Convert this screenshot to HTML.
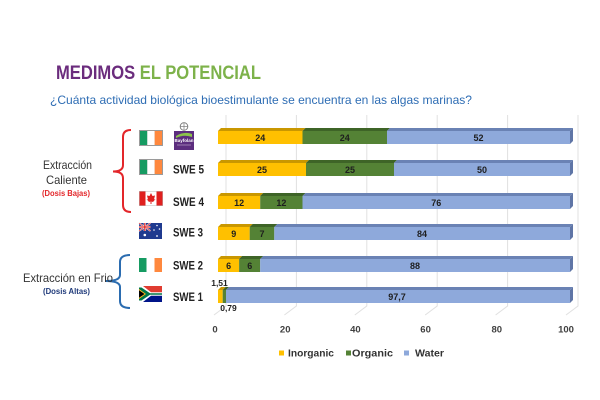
<!DOCTYPE html>
<html>
<head>
<meta charset="utf-8">
<style>
html,body{margin:0;padding:0;background:#fff;}
svg{display:block;}
text{font-family:"Liberation Sans",sans-serif;}
</style>
</head>
<body>
<svg width="600" height="400" viewBox="0 0 600 400" xmlns="http://www.w3.org/2000/svg">
<rect width="600" height="400" fill="#fff"/>

<!-- Title -->
<text x="56" y="79" font-size="19.5" font-weight="bold" textLength="205" lengthAdjust="spacingAndGlyphs"><tspan fill="#6B2C7D">MEDIMOS </tspan><tspan fill="#7DB24A">EL POTENCIAL</tspan></text>
<text x="50" y="104" font-size="12" fill="#2E6DB4" textLength="422" lengthAdjust="spacingAndGlyphs">¿Cuánta actividad biológica bioestimulante se encuentra en las algas marinas?</text>

<!-- Gridlines -->
<g stroke="#E0E0E0" stroke-width="1" fill="none">
<path d="M226,115 V306 L214,315"/>
<path d="M296.4,115 V306 L284.4,315"/>
<path d="M366.8,115 V306 L354.8,315"/>
<path d="M437.2,115 V306 L425.2,315"/>
<path d="M507.6,115 V306 L495.6,315"/>
<path d="M578,115 V306 L566,315"/>
</g>

<!-- Bars -->
<g id="bars">
<polygon points="218,131 221,128 305.5,128 302.5,131" fill="#C99700"/>
<polygon points="302.5,131 305.5,128 390,128 387,131" fill="#3E6427"/>
<polygon points="387,131 390,128 573,128 570,131" fill="#6A82B4"/>
<rect x="218" y="131" width="84.5" height="13" fill="#FFC000"/>
<rect x="302.5" y="131" width="84.5" height="13" fill="#548235"/>
<rect x="387" y="131" width="183" height="13" fill="#8EA9DB"/>
<polygon points="570,131 573,128 573,141 570,144" fill="#5F75A6"/>

<polygon points="218,163 221,160 309,160 306,163" fill="#C99700"/>
<polygon points="306,163 309,160 397,160 394,163" fill="#3E6427"/>
<polygon points="394,163 397,160 573,160 570,163" fill="#6A82B4"/>
<rect x="218" y="163" width="88" height="13" fill="#FFC000"/>
<rect x="306" y="163" width="88" height="13" fill="#548235"/>
<rect x="394" y="163" width="176" height="13" fill="#8EA9DB"/>
<polygon points="570,163 573,160 573,173 570,176" fill="#5F75A6"/>

<polygon points="218,196 221,193 263.2,193 260.2,196" fill="#C99700"/>
<polygon points="260.2,196 263.2,193 305.5,193 302.5,196" fill="#3E6427"/>
<polygon points="302.5,196 305.5,193 573,193 570,196" fill="#6A82B4"/>
<rect x="218" y="196" width="42.2" height="13" fill="#FFC000"/>
<rect x="260.2" y="196" width="42.3" height="13" fill="#548235"/>
<rect x="302.5" y="196" width="267.5" height="13" fill="#8EA9DB"/>
<polygon points="570,196 573,193 573,206 570,209" fill="#5F75A6"/>

<polygon points="218,227 221,224 252.7,224 249.7,227" fill="#C99700"/>
<polygon points="249.7,227 252.7,224 277.3,224 274.3,227" fill="#3E6427"/>
<polygon points="274.3,227 277.3,224 573,224 570,227" fill="#6A82B4"/>
<rect x="218" y="227" width="31.7" height="13" fill="#FFC000"/>
<rect x="249.7" y="227" width="24.6" height="13" fill="#548235"/>
<rect x="274.3" y="227" width="295.7" height="13" fill="#8EA9DB"/>
<polygon points="570,227 573,224 573,237 570,240" fill="#5F75A6"/>

<polygon points="218,259 221,256 242.1,256 239.1,259" fill="#C99700"/>
<polygon points="239.1,259 242.1,256 263.2,256 260.2,259" fill="#3E6427"/>
<polygon points="260.2,259 263.2,256 573,256 570,259" fill="#6A82B4"/>
<rect x="218" y="259" width="21.1" height="13" fill="#FFC000"/>
<rect x="239.1" y="259" width="21.1" height="13" fill="#548235"/>
<rect x="260.2" y="259" width="309.8" height="13" fill="#8EA9DB"/>
<polygon points="570,259 573,256 573,269 570,272" fill="#5F75A6"/>

<polygon points="218,290 221,287 225.7,287 222.7,290" fill="#C99700"/>
<polygon points="222.7,290 225.7,287 229,287 226,290" fill="#3E6427"/>
<polygon points="226,290 229,287 573,287 570,290" fill="#6A82B4"/>
<rect x="218" y="290" width="4.7" height="13" fill="#FFC000"/>
<rect x="222.7" y="290" width="3.3" height="13" fill="#548235"/>
<rect x="226" y="290" width="344" height="13" fill="#8EA9DB"/>
<polygon points="570,290 573,287 573,300 570,303" fill="#5F75A6"/>
</g>

<!-- Bar labels -->
<g font-size="9" font-weight="bold" fill="#1E1E1E" text-anchor="middle">
<text x="260.2" y="141">24</text>
<text x="344.8" y="141">24</text>
<text x="478.5" y="141">52</text>
<text x="262" y="173">25</text>
<text x="350" y="173">25</text>
<text x="482" y="173">50</text>
<text x="239.1" y="206">12</text>
<text x="281.4" y="206">12</text>
<text x="436.3" y="206">76</text>
<text x="233.8" y="237">9</text>
<text x="262" y="237">7</text>
<text x="422" y="237">84</text>
<text x="228.6" y="269">6</text>
<text x="249.7" y="269">6</text>
<text x="415" y="269">88</text>
<text x="397" y="300">97,7</text>
</g>
<g font-size="8.5" font-weight="bold" fill="#1E1E1E" text-anchor="middle">
<text x="219.5" y="286">1,51</text>
<text x="228.5" y="311">0,79</text>
</g>

<!-- X axis labels -->
<g font-size="9.5" font-weight="bold" fill="#404040" text-anchor="middle">
<text x="215" y="332.5">0</text>
<text x="285.2" y="332.5">20</text>
<text x="355.4" y="332.5">40</text>
<text x="425.6" y="332.5">60</text>
<text x="496.8" y="332.5">80</text>
<text x="566" y="332.5">100</text>
</g>

<!-- Legend -->
<rect x="279" y="350.5" width="5" height="5" fill="#FFC000"/>
<text x="288" y="356.5" font-size="10" font-weight="bold" fill="#333" textLength="46" lengthAdjust="spacingAndGlyphs">Inorganic</text>
<rect x="346" y="350.5" width="5" height="5" fill="#548235"/>
<text x="352" y="356.5" font-size="10" font-weight="bold" fill="#333" textLength="41" lengthAdjust="spacingAndGlyphs">Organic</text>
<rect x="404" y="350.5" width="5" height="5" fill="#8EA9DB"/>
<text x="415" y="356.5" font-size="10" font-weight="bold" fill="#333" textLength="29" lengthAdjust="spacingAndGlyphs">Water</text>

<!-- Row labels -->
<g font-size="12" font-weight="bold" fill="#222">
<text x="173" y="173.5" textLength="31" lengthAdjust="spacingAndGlyphs">SWE 5</text>
<text x="173" y="206" textLength="31" lengthAdjust="spacingAndGlyphs">SWE 4</text>
<text x="173" y="236.5" textLength="30" lengthAdjust="spacingAndGlyphs">SWE 3</text>
<text x="173" y="269.5" textLength="30" lengthAdjust="spacingAndGlyphs">SWE 2</text>
<text x="173" y="301" textLength="30" lengthAdjust="spacingAndGlyphs">SWE 1</text>
</g>

<!-- Flags -->
<g>
<rect x="139" y="130" width="24" height="16" fill="#9a9a9a"/>
<rect x="140" y="131" width="7.3" height="14" fill="#169B62"/>
<rect x="147.3" y="131" width="7.4" height="14" fill="#fff"/>
<rect x="154.7" y="131" width="7.3" height="14" fill="#FF883E"/>
</g>
<g>
<rect x="139" y="159" width="24" height="16" fill="#9a9a9a"/>
<rect x="140" y="160" width="7.3" height="14" fill="#169B62"/>
<rect x="147.3" y="160" width="7.4" height="14" fill="#fff"/>
<rect x="154.7" y="160" width="7.3" height="14" fill="#FF883E"/>
</g>
<g>
<rect x="139" y="191" width="24" height="15" fill="#bbb"/>
<rect x="139.5" y="191.5" width="23" height="14" fill="#fff"/>
<rect x="139.5" y="191.5" width="6" height="14" fill="#E0201F"/>
<rect x="156.5" y="191.5" width="6" height="14" fill="#E0201F"/>
<polygon points="151,193 152.5,196 155,195.5 154,199.5 155.5,199 153,202 151.5,201.5 151.5,204 150.5,204 150.5,201.5 149,202 146.5,199 148,199.5 147,195.5 149.5,196" fill="#E0201F"/>
</g>
<g>
<rect x="139" y="223" width="23" height="16" fill="#1F3A8F"/>
<g stroke="#fff" stroke-width="1.6">
<line x1="139" y1="223" x2="150.5" y2="231"/>
<line x1="150.5" y1="223" x2="139" y2="231"/>
</g>
<g stroke="#D22" stroke-width="0.7">
<line x1="139" y1="223" x2="150.5" y2="231"/>
<line x1="150.5" y1="223" x2="139" y2="231"/>
</g>
<rect x="143.7" y="223" width="2.2" height="8" fill="#fff"/>
<rect x="139" y="225.9" width="11.5" height="2.2" fill="#fff"/>
<rect x="144.2" y="223" width="1.2" height="8" fill="#D22"/>
<rect x="139" y="226.4" width="11.5" height="1.2" fill="#D22"/>
<g fill="#fff">
<circle cx="144.8" cy="235" r="1.3"/>
<circle cx="157" cy="225.5" r="0.8"/>
<circle cx="154" cy="230" r="0.8"/>
<circle cx="159.5" cy="229" r="0.8"/>
<circle cx="157" cy="236" r="0.9"/>
</g>
</g>
<g>
<rect x="139" y="258" width="7.5" height="14" fill="#169B62"/>
<rect x="146.5" y="258" width="8" height="14" fill="#fff"/>
<rect x="154.5" y="258" width="7.5" height="14" fill="#FF883E"/>
</g>
<g>
<rect x="139" y="286" width="23" height="8" fill="#E03C31"/>
<rect x="139" y="294" width="23" height="8" fill="#001489"/>
<polygon points="139,286 143,286 151,292.2 162,292.2 162,295.8 151,295.8 143,302 139,302" fill="#fff"/>
<polygon points="139,287.5 141.5,287.5 150,293.2 162,293.2 162,294.8 150,294.8 141.5,300.5 139,300.5" fill="#007749"/>
<polygon points="139,289 146,294 139,299" fill="#FFB81C"/>
<polygon points="139,290.2 144.5,294 139,297.8" fill="#000"/>
</g>

<!-- Bayfolan logo -->
<g>
<circle cx="184" cy="126.5" r="3.8" fill="#fff" stroke="#7a7a7a" stroke-width="0.9"/>
<line x1="184" y1="123" x2="184" y2="130" stroke="#7a7a7a" stroke-width="0.7"/>
<line x1="180.5" y1="126.5" x2="187.5" y2="126.5" stroke="#7a7a7a" stroke-width="0.7"/>
<rect x="174" y="131" width="20" height="19" fill="#5C2D7E"/>
<path d="M176,136 Q184,131 192,134 L192,137 Q184,134 176,138 Z" fill="#8BC34A"/>
<text x="184" y="142" font-size="4.5" font-weight="bold" fill="#fff" text-anchor="middle">Bayfolan</text>
<rect x="177" y="144.5" width="14" height="1" fill="#9b7bb0"/>
</g>

<!-- Braces -->
<path d="M131,130 Q123,130 123,137 L123,165 Q123,171.5 113,171.5 Q123,171.5 123,178 L123,205 Q123,212 131,212" fill="none" stroke="#E3262A" stroke-width="2"/>
<path d="M130,255 Q120,255 120,262 L120,275 Q120,281 106,281 Q120,281 120,287 L120,301 Q120,308 130,308" fill="none" stroke="#2B6CB0" stroke-width="2"/>

<!-- Left group labels -->
<g fill="#333" font-size="12">
<text x="43" y="169" textLength="49" lengthAdjust="spacingAndGlyphs">Extracción</text>
<text x="46" y="184" textLength="41" lengthAdjust="spacingAndGlyphs">Caliente</text>
<text x="23" y="282" textLength="90" lengthAdjust="spacingAndGlyphs">Extracción en Frio</text>
</g>
<text x="42" y="196" font-size="8" font-weight="bold" fill="#E3262A" textLength="48" lengthAdjust="spacingAndGlyphs">(Dosis Bajas)</text>
<text x="43" y="294" font-size="8" font-weight="bold" fill="#1F3A7A" textLength="47" lengthAdjust="spacingAndGlyphs">(Dosis Altas)</text>
</svg>
</body>
</html>
